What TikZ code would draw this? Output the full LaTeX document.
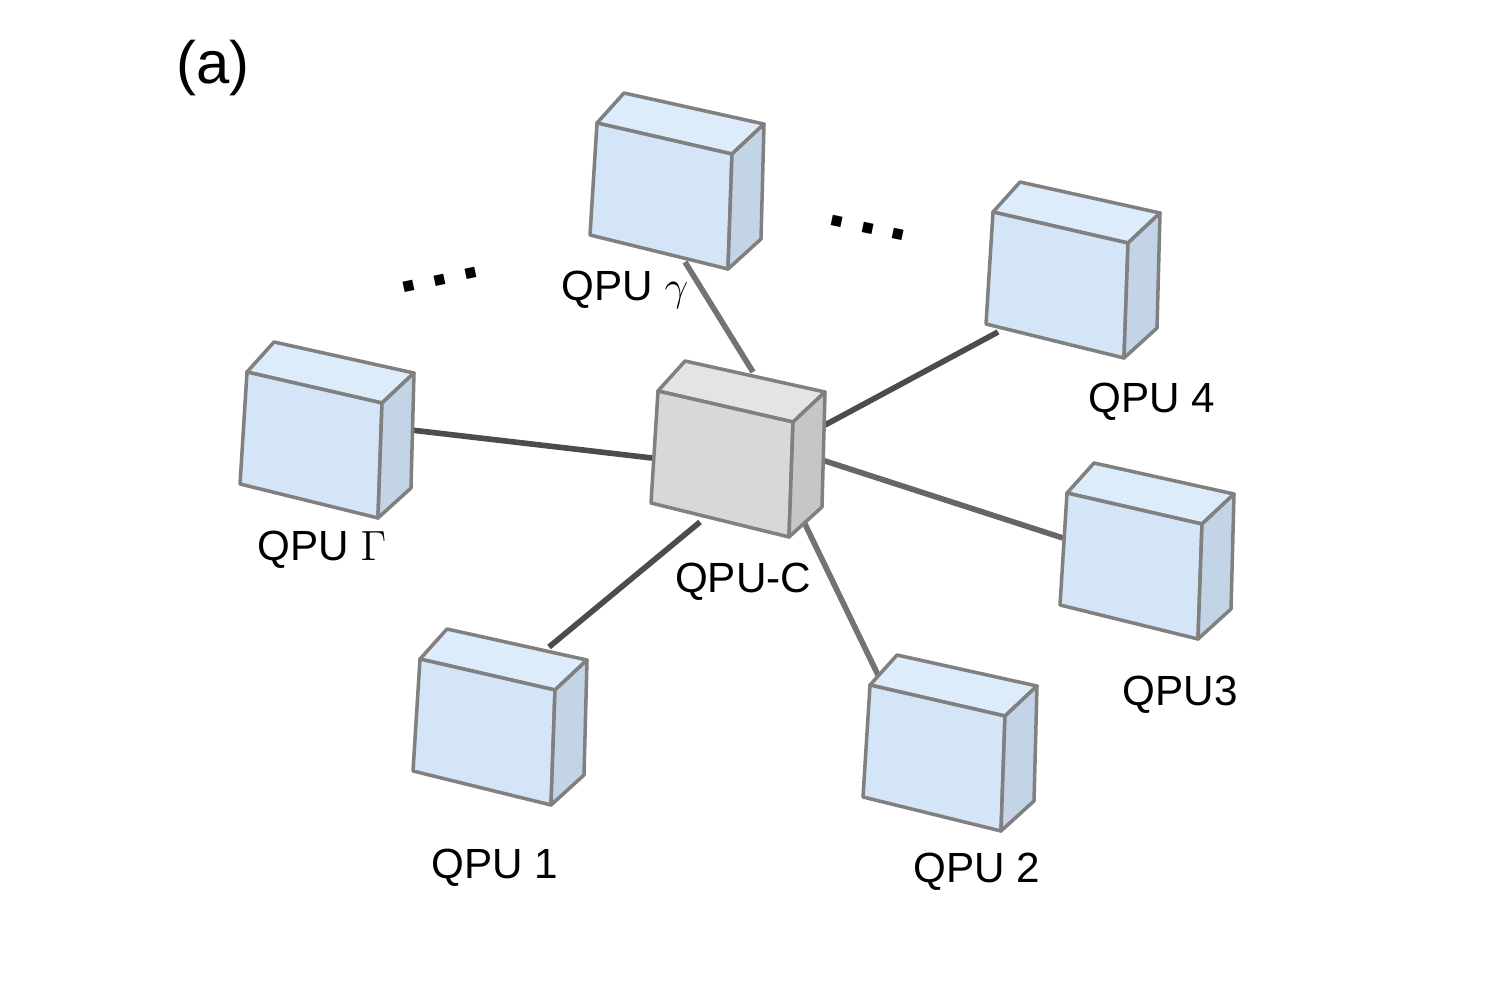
\documentclass[tikz,border=0pt]{standalone}
\usepackage{fontspec}
\setmainfont{Liberation Sans}
\usetikzlibrary{calc, positioning}

\definecolor{bluetop}{HTML}{DDECFB}
\definecolor{bluefront}{HTML}{D3E5F7}
\definecolor{blueside}{HTML}{C2D4E6}
\definecolor{greytop}{HTML}{E4E4E4}
\definecolor{greyfront}{HTML}{D8D8D8}
\definecolor{greyside}{HTML}{C6C6C6}

% one cube: name, front top-left x, y, colour prefix
\newcommand{\qpucube}[4]{%
	\coordinate (#1) at (#2,#3);
	\draw[edge, fill=#4top] (#1) -- ++(27,-30) -- ++(140,31) -- ++(-32,30) -- cycle;
	\draw[edge, fill=#4front] (#1) -- ++(135,31) -- ++(-4,115) -- ++(-138,-34) -- cycle;
	\draw[edge, fill=#4side] ($(#1)+(135,31)$) -- ++(32,-30) -- ++(-3,115) -- ++(-33,30) -- cycle;
}

\begin{document}
\begin{tikzpicture}[x=0.01cm, y=-0.01cm]
		\tikzstyle{edge} = [draw=black!50, line width=1pt, line join=round]
		\tikzstyle{link} = [line width=1.6pt, draw=black!70]
		\tikzstyle{label} = [font=\fontsize{12}{14}\selectfont]
		\tikzstyle{more} = [font=\fontsize{20}{20}\selectfont\bfseries, inner sep=0pt]
		
		\useasboundingbox (0,0) rectangle (1500,1000);
		
		\node[font=\fontsize{17}{20}\selectfont] at (213,68) (tag) {(a)};
		
		% connectors, drawn below the cubes
		\coordinate (gA) at (685,262);   \coordinate (gB) at (753,372);
		\coordinate (fA) at (825,425);   \coordinate (fB) at (998,332);
		\coordinate (GA) at (411,430);   \coordinate (GB) at (652,458);
		\coordinate (tA) at (822,460);   \coordinate (tB) at (1063,538);
		\coordinate (sA) at (803,520);   \coordinate (sB) at (878,675);
		\coordinate (oA) at (700,522);   \coordinate (oB) at (549,647);
		\draw[link, draw=black!55] (gA) -- (gB);
		\draw[link] (fA) -- (fB);
		\draw[link] (GA) -- (GB);
		\draw[link, draw=black!60] (tA) -- (tB);
		\draw[link, draw=black!55] (sA) -- (sB);
		\draw[link] (oA) -- (oB);
		
		\qpucube{cg}{597}{123}{blue}
		\qpucube{c4}{993}{212}{blue}
		\qpucube{cG}{247}{372}{blue}
		\qpucube{cc}{658}{391}{grey}
		\qpucube{c3}{1067}{493}{blue}
		\qpucube{c2}{870}{685}{blue}
		\qpucube{c1}{420}{659}{blue}
		
		\node[label] at (625,290)  (lg) {QPU $\gamma$};
		\node[label] at (1152,402) (l4) {QPU 4};
		\node[label] at (322,550)  (lG) {QPU $\Gamma$};
		\node[label] at (743,582)  (lc) {QPU-C};
		\node[label] at (1180,695) (l3) {QPU3};
		\node[label] at (977,872)  (l2) {QPU 2};
		\node[label] at (495,868)  (l1) {QPU 1};
		
		\node[more, rotate=12] at (440,280) (dl) {.\,.\,.};
		\node[more, rotate=-12] at (868,228) (dr) {.\,.\,.};
\end{tikzpicture}
\end{document}
